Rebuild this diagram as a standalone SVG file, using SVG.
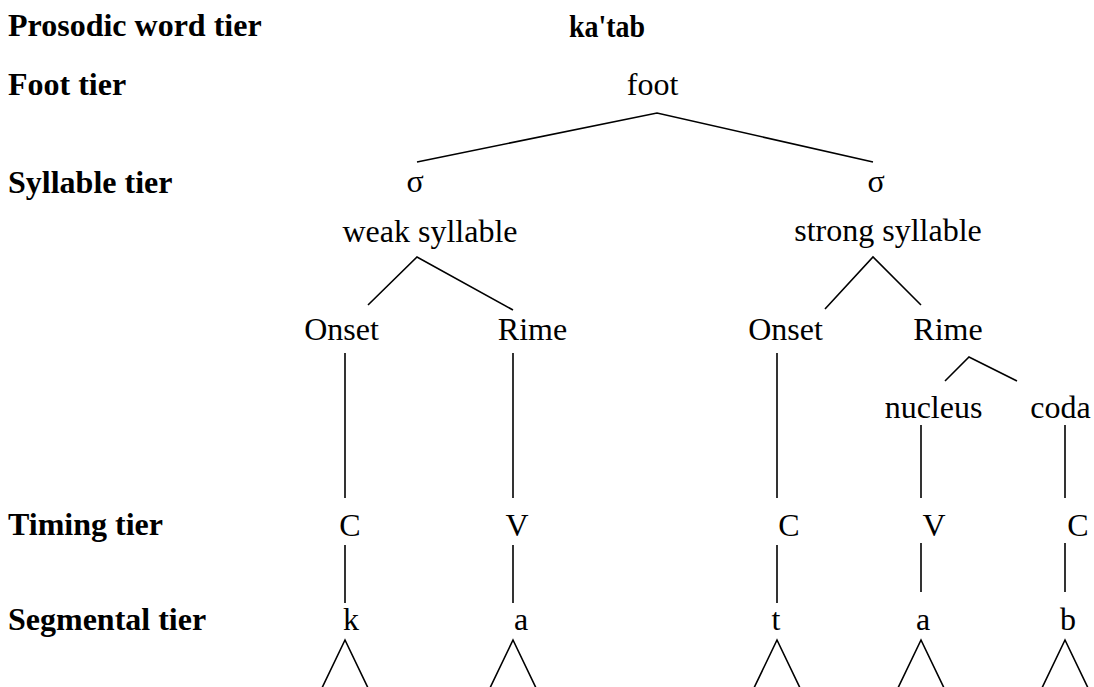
<svg xmlns="http://www.w3.org/2000/svg" width="1094" height="687" viewBox="0 0 1094 687">
  <style>
    text { font-family: "Liberation Serif", "Times New Roman", serif; font-size: 32px; fill: #000; }
    .tier { font-weight: bold; }
    .node { text-anchor: middle; }
    .word { font-weight: bold; text-anchor: middle; font-size: 31px; }
    .edge { stroke: #000; stroke-width: 1.6; fill: none; stroke-linecap: butt; }
  </style>
  <rect width="1094" height="687" fill="#fff"/>

  <!-- tier labels -->
  <g id="tier-labels">
    <text class="tier" x="8" y="36">Prosodic word tier</text>
    <text class="tier" x="8" y="95">Foot tier</text>
    <text class="tier" x="8" y="193">Syllable tier</text>
    <text class="tier" x="8" y="535">Timing tier</text>
    <text class="tier" x="8" y="630">Segmental tier</text>
  </g>

  <!-- connectors -->
  <g id="connectors" class="edge">
    <polyline class="edge" points="417,162 657,113 873,162"/>
    <polyline class="edge" points="368,305 417,257 513,310"/>
    <polyline class="edge" points="825,309 873,257 921,305"/>
    <polyline class="edge" points="945,381 969,357 1017,381"/>
    <line class="edge" x1="345" y1="353" x2="345" y2="498"/>
    <line class="edge" x1="513" y1="353" x2="513" y2="498"/>
    <line class="edge" x1="777" y1="353" x2="777" y2="498"/>
    <line class="edge" x1="921" y1="425" x2="921" y2="498"/>
    <line class="edge" x1="1065" y1="425" x2="1065" y2="498"/>
    <line class="edge" x1="345" y1="545" x2="345" y2="603"/>
    <line class="edge" x1="513" y1="545" x2="513" y2="603"/>
    <line class="edge" x1="777" y1="545" x2="777" y2="603"/>
    <line class="edge" x1="921" y1="543" x2="921" y2="592"/>
    <line class="edge" x1="1065" y1="543" x2="1065" y2="592"/>
    <polyline class="edge" points="321,690 345,640 369,690"/>
    <polyline class="edge" points="489,690 513,640 537,690"/>
    <polyline class="edge" points="753,690 777,640 801,690"/>
    <polyline class="edge" points="897,690 921,640 945,690"/>
    <polyline class="edge" points="1041,690 1065,640 1089,690"/>
  </g>

  <g id="word"><text class="word" x="607" y="37" textLength="76" lengthAdjust="spacingAndGlyphs">ka'tab</text></g>
  <g id="foot"><text class="node" x="652.5" y="95">foot</text></g>
  <g id="sigma-weak"><text class="node" x="415" y="192">σ</text></g>
  <g id="sigma-strong"><text class="node" x="876" y="192">σ</text></g>
  <g id="weak-syllable"><text class="node" x="430" y="242">weak syllable</text></g>
  <g id="strong-syllable"><text class="node" x="888" y="241">strong syllable</text></g>
  <g id="onset-1"><text class="node" x="341.5" y="340">Onset</text></g>
  <g id="rime-1"><text class="node" x="532.5" y="340">Rime</text></g>
  <g id="onset-2"><text class="node" x="785.5" y="340">Onset</text></g>
  <g id="rime-2"><text class="node" x="948" y="340">Rime</text></g>
  <g id="nucleus"><text class="node" x="933.5" y="418">nucleus</text></g>
  <g id="coda"><text class="node" x="1060.5" y="418">coda</text></g>
  <g id="timing-c1"><text class="node" x="350" y="536">C</text></g>
  <g id="timing-v1"><text class="node" x="517" y="536">V</text></g>
  <g id="timing-c2"><text class="node" x="789" y="536">C</text></g>
  <g id="timing-v2"><text class="node" x="934" y="536">V</text></g>
  <g id="timing-c3"><text class="node" x="1078" y="536">C</text></g>
  <g id="seg-k"><text class="node" x="351" y="630">k</text></g>
  <g id="seg-a1"><text class="node" x="521" y="630">a</text></g>
  <g id="seg-t"><text class="node" x="776" y="630">t</text></g>
  <g id="seg-a2"><text class="node" x="923" y="630">a</text></g>
  <g id="seg-b"><text class="node" x="1068" y="630">b</text></g>
</svg>
